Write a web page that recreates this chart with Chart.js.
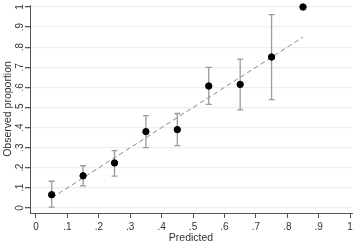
<!DOCTYPE html>
<html>
<head>
<meta charset="utf-8">
<script src="https://cdn.jsdelivr.net/npm/chart.js@4"></script>
<style>
  html, body { margin: 0; padding: 0; background: #fff; }
  #wrap { width: 358px; height: 243px; }
</style>
</head>
<body>
<div id="wrap"><canvas id="chartCalib"></canvas></div>
<script>
// data
const predicted = [0.05, 0.15, 0.25, 0.35, 0.45, 0.55, 0.65, 0.75, 0.85];
const observed = [0.066, 0.16, 0.224, 0.38, 0.39, 0.607, 0.615, 0.751, 1.0];
const ciLow = [0.004, 0.11, 0.158, 0.30, 0.31, 0.516, 0.488, 0.539, null];
const ciHigh = [0.133, 0.21, 0.285, 0.46, 0.47, 0.70, 0.741, 0.962, null];
const refLineX = [0.05, 0.85];
const refLineY = [0.05, 0.85];
const tickValues = [0, 0.1, 0.2, 0.3, 0.4, 0.5, 0.6, 0.7, 0.8, 0.9, 1];
const tickLabels = ['0', '.1', '.2', '.3', '.4', '.5', '.6', '.7', '.8', '.9', '1'];

const fontFamily = '"Liberation Sans", Arial, sans-serif';
const axisColor = '#555';
const textColor = '#333';

const setTicks = (scale) => {
    scale.ticks = tickValues.map(v => ({ value: v }));
};

// capped spikes for the confidence intervals
const errorBars = {
    id: 'errorBars',
    beforeDatasetsDraw(chart) {
        const ctx = chart.ctx;
        const x = chart.scales.x, y = chart.scales.y;
        ctx.save();
        ctx.strokeStyle = '#9a9a9a';
        ctx.lineWidth = 1.3;
        predicted.forEach((p, i) => {
            if (ciLow[i] === null) return;
            const px = x.getPixelForValue(p);
            const lo = y.getPixelForValue(ciLow[i]);
            const hi = y.getPixelForValue(ciHigh[i]);
            ctx.beginPath();
            ctx.moveTo(px, lo); ctx.lineTo(px, hi);
            ctx.moveTo(px - 3, lo); ctx.lineTo(px + 3, lo);
            ctx.moveTo(px - 3, hi); ctx.lineTo(px + 3, hi);
            ctx.stroke();
        });
        ctx.restore();
    }
};

// y tick labels are rotated like Stata does
const yLabels = {
    id: 'yLabels',
    afterDraw(chart) {
        const ctx = chart.ctx;
        const y = chart.scales.y;
        ctx.save();
        ctx.fillStyle = textColor;
        ctx.font = '10px ' + fontFamily;
        ctx.textAlign = 'center';
        ctx.textBaseline = 'middle';
        tickValues.forEach((v, i) => {
            ctx.save();
            ctx.translate(20, y.getPixelForValue(v));
            ctx.rotate(-Math.PI / 2);
            ctx.fillText(tickLabels[i], 0, 0);
            ctx.restore();
        });
        ctx.restore();
    }
};

const contCalib = document.getElementById('chartCalib');
const configCalib = {
    type: 'scatter',
    data: {
        datasets: [
            {
                label: 'Observed',
                data: predicted.map((p, i) => ({ x: p, y: observed[i] })),
                backgroundColor: '#000',
                borderColor: '#000',
                pointRadius: 3.2,
                pointHoverRadius: 3.2,
                clip: false
            },
            {
                type: 'line',
                label: 'Reference',
                data: refLineX.map((v, i) => ({ x: v, y: refLineY[i] })),
                borderColor: '#8a8a8a',
                borderWidth: 1,
                borderDash: [5, 3],
                pointRadius: 0,
                fill: false
            }
        ]
    },
    options: {
        responsive: true,
        maintainAspectRatio: false,
        animation: false,
        layout: { padding: { left: 0, right: 6, top: 5, bottom: 0 } },
        plugins: {
            legend: { display: false },
            tooltip: { enabled: false }
        },
        scales: {
            x: {
                type: 'linear',
                min: -0.019,
                max: 1.006,
                afterBuildTicks: setTicks,
                afterFit: (scale) => { scale.height = 30; },
                grid: { drawOnChartArea: false, tickLength: 5, tickColor: axisColor },
                border: { color: axisColor, width: 1 },
                ticks: {
                    color: textColor,
                    font: { family: fontFamily, size: 10 },
                    padding: 3,
                    maxRotation: 0,
                    callback: (v) => tickLabels[tickValues.indexOf(Math.round(v * 10) / 10)]
                },
                title: {
                    display: true,
                    text: 'Predicted',
                    color: textColor,
                    font: { family: fontFamily, size: 10.5, lineHeight: 1 },
                    padding: { top: 0, bottom: 0 }
                }
            },
            y: {
                type: 'linear',
                min: -0.025,
                max: 1.01,
                afterBuildTicks: setTicks,
                afterFit: (scale) => { scale.width = 30; },
                grid: { color: '#efefef', lineWidth: 1.3, tickLength: 5, tickColor: axisColor },
                border: { color: axisColor, width: 1 },
                ticks: { display: false },
                title: {
                    display: true,
                    text: 'Observed proportion',
                    color: textColor,
                    font: { family: fontFamily, size: 10.5, lineHeight: 1 },
                    padding: { top: 3, bottom: 0 }
                }
            }
        }
    },
    plugins: [errorBars, yLabels]
};

const chartCalib = new Chart(contCalib, configCalib);
</script>
</body>
</html>
